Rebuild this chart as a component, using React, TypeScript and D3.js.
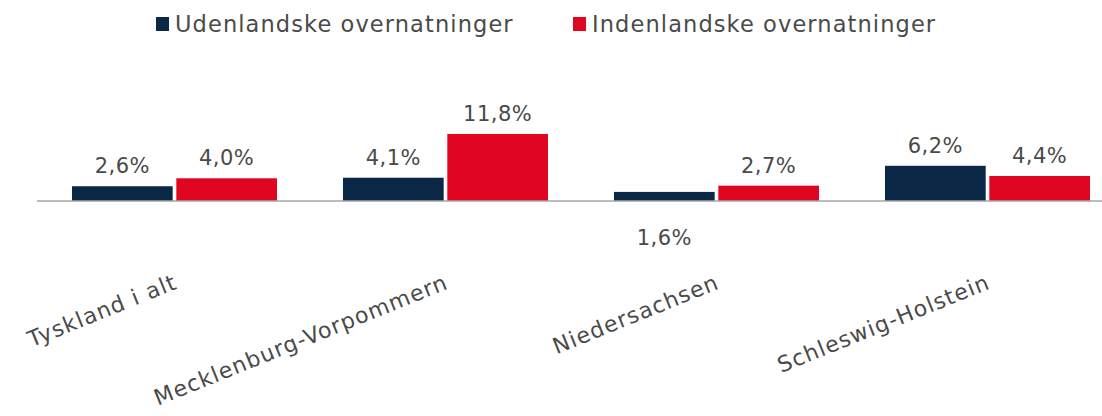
import React from 'react';
import * as d3 from 'd3';

const categories = ['Tyskland i alt', 'Mecklenburg-Vorpommern', 'Niedersachsen', 'Schleswig-Holstein'];
const seriesNames = ['Udenlandske overnatninger', 'Indenlandske overnatninger'];
const udenlandske = [2.6, 4.1, 1.6, 6.2];
const indenlandske = [4.0, 11.8, 2.7, 4.4];
const colors = ['#0A2746', '#E00520'];

const W = 1102;
const H = 416;
const baseY = 201;
const font = '"DejaVu Sans", sans-serif';
const textColor = '#4a4a4a';

const fmt = (v: number) => v.toFixed(1).replace('.', ',') + '%';

export default function App() {
  const series = [udenlandske, indenlandske];

  const x0 = d3.scaleBand<string>().domain(categories).range([39, 1123]).paddingInner(0).paddingOuter(0);
  const x1 = d3
    .scaleBand<number>()
    .domain([0, 1])
    .range([33, x0.bandwidth() - 33])
    .paddingInner(0.035);
  const y = d3.scaleLinear().domain([0, 11.8]).range([baseY, 134]);

  return (
    <svg width={W} height={H} style={{ position: 'absolute', left: 0, top: 0 }} fontFamily={font}>
      {/* legend */}
      {seriesNames.map((name, i) => {
        const lx = i === 0 ? 156 : 573;
        return (
          <g key={name}>
            <rect x={lx} y={17} width={13} height={14} fill={colors[i]} />
            <text x={lx + 19} y={32} fontSize={22.5} letterSpacing={1.1} fill={textColor}>
              {name}
            </text>
          </g>
        );
      })}

      {/* bars */}
      {categories.map((c, ci) => (
        <g key={c} transform={`translate(${x0(c)},0)`}>
          {series.map((s, si) => {
            const v = s[ci];
            const bx = x1(si) as number;
            const bw = x1.bandwidth();
            const below = v < 2 && si === 0;
            return (
              <g key={si}>
                <rect x={bx} y={y(v)} width={bw} height={baseY - y(v)} fill={colors[si]} />
                <text
                  x={bx + bw / 2}
                  y={below ? baseY + 44 : y(v) - 13}
                  textAnchor="middle"
                  fontSize={21}
                  letterSpacing={0.5}
                  fill={textColor}
                >
                  {fmt(v)}
                </text>
              </g>
            );
          })}
        </g>
      ))}

      {/* baseline */}
      <line x1={37} x2={W} y1={baseY} y2={baseY} stroke="#A6A6A6" strokeWidth={1.5} />

      {/* category labels */}
      {categories.map((c) => {
        const cx = (x0(c) as number) + x0.bandwidth() / 2;
        return (
          <text
            key={c}
            transform={`translate(${cx + 4},${288}) rotate(-22)`}
            textAnchor="end"
            fontSize={22}
            letterSpacing={1.1}
            fill={textColor}
          >
            {c}
          </text>
        );
      })}
    </svg>
  );
}
